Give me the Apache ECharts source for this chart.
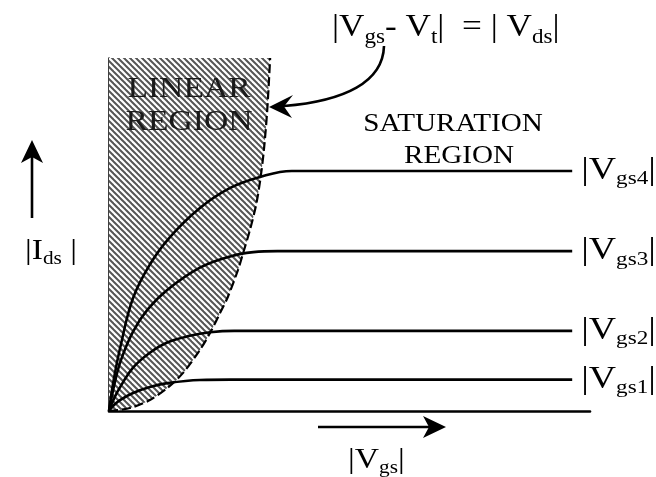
<!DOCTYPE html>
<html>
<head>
<meta charset="utf-8">
<script src="https://cdn.jsdelivr.net/npm/echarts@6/dist/echarts.min.js"></script>
<style>
  html, body { margin: 0; padding: 0; background: #fff; }
  #chart { width: 656px; height: 477px; }
</style>
</head>
<body>
<div id="chart"></div>
<script>
// Output characteristics of a MOSFET: |Ids| against |Vds| for four gate voltages.
// Units are arbitrary (0..100 on both axes).
const curveVgs4 = [[0,0],[1,9],[2.5,19],[5,32],[8.5,41.5],[12.5,49],[18.9,57.5],[25.2,63.2],[31.4,66.3],[38,68],[96.3,68]];
const curveVgs3 = [[0,0],[1.2,8],[2.5,14.5],[5,22.5],[8,28.7],[12.1,34.3],[18.9,40.6],[25.2,43.8],[30,45],[35,45.3],[96.3,45.3]];
const curveVgs2 = [[0,0],[1.2,4],[2.5,7.2],[5,12.3],[8.5,16.5],[12.1,19.4],[16.8,21.3],[21,22.3],[26,22.7],[96.3,22.7]];
const curveVgs1 = [[0,0],[1.04,1.7],[2.29,3.1],[5,5.1],[8.5,6.8],[12.1,7.9],[18.9,8.8],[25.2,8.9],[96.3,8.9]];
// Edge of the linear region: |Vgs - Vt| = |Vds|
const boundary = [[0,0],[2.29,0.3],[5.0,1.1],[8.5,3.1],[12.1,6.5],[15.4,10.8],[18.9,17.3],[21.0,22.1],[23.1,27.8],[24.7,32.3],[26.8,39.9],[27.9,44.8],[29.3,51.3],[30.6,58.5],[31.5,66.0],[32.2,73.9],[32.9,85.3],[33.5,100]];

const curves = [curveVgs4, curveVgs3, curveVgs2, curveVgs1];
const curveSubs = ['gs4', 'gs3', 'gs2', 'gs1'];

const SERIF = '"Liberation Serif", "DejaVu Serif", serif';
const MAIN = 30, SUB = 19, SX = 1.12;

// Diagonal hatch tile for the linear region
function hatchTile() {
  const n = 6;
  const c = document.createElement('canvas');
  c.width = n; c.height = n;
  const g = c.getContext('2d');
  g.fillStyle = '#fff';
  g.fillRect(0, 0, n, n);
  g.strokeStyle = '#555';
  g.lineWidth = 2;
  for (let k = -1; k <= 1; k++) {
    g.beginPath();
    g.moveTo(-1, -1 + k * n);
    g.lineTo(n + 1, n + 1 + k * n);
    g.stroke();
  }
  return c;
}

const chart = echarts.init(document.getElementById('chart'), null, { renderer: 'canvas' });

const hidden = { show: false };
const series = [{
  type: 'line',
  data: boundary,
  smooth: 0.3,
  showSymbol: false,
  lineStyle: { color: '#000', width: 2.2, type: [9, 4] },
  areaStyle: { origin: 'end', color: { image: hatchTile(), repeat: 'repeat' }, opacity: 1 },
  z: 1
}];
curves.forEach(d => series.push({
  type: 'line',
  data: d,
  smooth: 0.4,
  showSymbol: false,
  lineStyle: { color: '#000', width: 2.6 },
  z: 3
}));

chart.setOption({
  animation: false,
  backgroundColor: '#fff',
  grid: { left: 109, top: 58, width: 481, height: 353 },
  xAxis: {
    type: 'value', min: 0, max: 100,
    axisLine: { show: true, lineStyle: { color: '#000', width: 2.6 } },
    axisTick: hidden, axisLabel: hidden, splitLine: hidden
  },
  yAxis: {
    type: 'value', min: 0, max: 100,
    axisLine: { show: true, lineStyle: { color: '#000', width: 1.5 } },
    axisTick: hidden, axisLabel: hidden, splitLine: hidden
  },
  series: series
});

function rich(main, sub, lm, ls) {
  return {
    m: { fontSize: main, fontFamily: SERIF, color: '#000', lineHeight: lm, verticalAlign: 'middle' },
    s: { fontSize: sub, fontFamily: SERIF, color: '#000', lineHeight: ls, verticalAlign: 'bottom' }
  };
}

function richText(x, y, text, opts) {
  opts = opts || {};
  return {
    type: 'text', x: x, y: y, scaleX: opts.sx || SX, z: 10,
    style: {
      text: text,
      rich: rich(opts.main || MAIN, opts.sub || SUB, opts.lm || 36, opts.ls || 13),
      align: opts.align || 'left', verticalAlign: 'middle'
    }
  };
}

function plainText(x, y, text, size, color) {
  return {
    type: 'text', x: x, y: y, scaleX: SX, z: 10,
    style: {
      text: text, font: size + 'px ' + SERIF, fill: color || '#000',
      align: 'center', verticalAlign: 'middle'
    }
  };
}

const graphics = [];
// Curve labels at the right end of each saturation line
curves.forEach((d, i) => {
  const p = chart.convertToPixel({ gridIndex: 0 }, d[d.length - 1]);
  graphics.push(richText(p[0] + 9, p[1], '{m||V}{s|' + curveSubs[i] + '}{m||}', { main: 31, sub: 19, sx: 1.22 }));
});
// Region names
graphics.push(plainText(189, 89, 'LINEAR', 30, '#1a1a1a'));
graphics.push(plainText(189, 122, 'REGION', 30, '#1a1a1a'));
graphics.push(plainText(453, 124, 'SATURATION', 26));
graphics.push(plainText(459, 156, 'REGION', 26));
// Boundary equation
graphics.push(richText(332, 28, '{m||V}{s|gs}{m|- V}{s|t}{m||  = | V}{s|ds}{m||}', { main: 32, sub: 21, lm: 40, ls: 14, sx: 1.1 }));
// Axis names
graphics.push(richText(25, 251, '{m||I}{s|ds}{m| |}'));
graphics.push(richText(348, 460, '{m||V}{s|gs}{m||}'));

// Arrows
const stroke = { stroke: '#000', lineWidth: 2.6, fill: null };
graphics.push({ type: 'line', shape: { x1: 32, y1: 218, x2: 32, y2: 156 }, style: stroke, z: 10 });
graphics.push({ type: 'polygon', shape: { points: [[32, 140], [21, 163], [32, 157], [43, 163]] }, style: { fill: '#000' }, z: 10 });
graphics.push({ type: 'line', shape: { x1: 318, y1: 427, x2: 430, y2: 427 }, style: stroke, z: 10 });
graphics.push({ type: 'polygon', shape: { points: [[446, 427], [423, 416], [429, 427], [423, 438]] }, style: { fill: '#000' }, z: 10 });
graphics.push({ type: 'bezierCurve', shape: { x1: 384, y1: 46, cpx1: 383, cpy1: 82, cpx2: 345, cpy2: 101, x2: 284, y2: 106 }, style: stroke, z: 10 });
graphics.push({ type: 'polygon', shape: { points: [[269, 107], [293, 95], [284, 106.5], [292, 118]] }, style: { fill: '#000' }, z: 10 });

chart.setOption({ graphic: graphics });
</script>
</body>
</html>
